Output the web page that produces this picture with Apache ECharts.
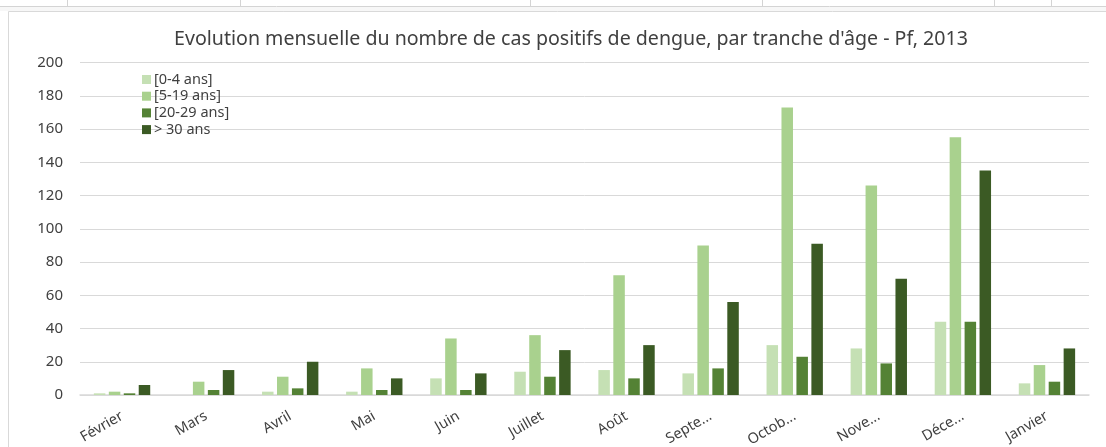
<!DOCTYPE html>
<html>
<head>
<meta charset="utf-8">
<script src="https://cdn.jsdelivr.net/npm/echarts@6/dist/echarts.min.js"></script>
<style>
  html, body { margin: 0; padding: 0; background: #fff; }
  #chart { width: 1106px; height: 447px; }
</style>
</head>
<body>
<div id="chart"></div>
<script>
// mois (catégories) et libellés tels qu'affichés sur l'axe
const months = ["Février", "Mars", "Avril", "Mai", "Juin", "Juillet", "Août", "Septembre", "Octobre", "Novembre", "Décembre", "Janvier"];
const monthLabels = ["Février", "Mars", "Avril", "Mai", "Juin", "Juillet", "Août", "Septe...", "Octob...", "Nove...", "Déce...", "Janvier"];

// cas par tranche d'âge
const age0_4 = [1, 0, 2, 2, 10, 14, 15, 13, 30, 28, 44, 7];
const age5_19 = [2, 8, 11, 16, 34, 36, 72, 90, 173, 126, 155, 18];
const age20_29 = [1, 3, 4, 3, 3, 11, 10, 16, 23, 19, 44, 8];
const age30plus = [6, 15, 20, 10, 13, 27, 30, 56, 91, 70, 135, 28];

const seriesNames = ["[0-4 ans]", "[5-19 ans]", "[20-29 ans]", "> 30 ans"];
const seriesColors = ["#c5e0b4", "#a9d18e", "#548235", "#3b5a24"];

const chart = echarts.init(document.getElementById("chart"));

const mkSeries = (name, data, color) => ({
  name: name,
  type: "bar",
  data: data,
  barWidth: 11.5,
  barGap: "30%",
  itemStyle: { color: color },
  emphasis: { disabled: true },
});

chart.setOption({
  animation: false,
  textStyle: { fontFamily: "Noto Sans" },
  title: {
    text: "Evolution mensuelle du nombre de cas positifs de dengue, par tranche d'âge - Pf, 2013",
    left: 566,
    top: 24,
    textAlign: "center",
    textStyle: { fontSize: 19.6, fontWeight: "normal", color: "#404040", fontFamily: "Noto Sans" },
  },
  legend: {
    orient: "vertical",
    left: 137,
    top: 67,
    itemWidth: 9,
    itemHeight: 9,
    itemGap: 1.7,
    icon: "rect",
    textStyle: { fontSize: 14.5, lineHeight: 15, color: "#404040", padding: [0, 0, 0, -2] },
    data: seriesNames,
  },
  grid: { left: 80, right: 17, top: 62.5, bottom: 52, outerBoundsMode: "none" },
  xAxis: {
    type: "category",
    data: months,
    axisLine: { lineStyle: { color: "#d9d9d9", width: 1.5 } },
    axisTick: { show: false },
    axisLabel: {
      rotate: 30,
      interval: 0,
      fontSize: 14.5,
      color: "#404040",
      margin: 20,
      formatter: (v, i) => monthLabels[i],
    },
  },
  yAxis: {
    type: "value",
    min: 0,
    max: 200,
    interval: 20,
    axisLine: { show: false },
    axisTick: { show: false },
    axisLabel: { fontSize: 15, color: "#404040", margin: 17 },
    splitLine: { lineStyle: { color: "#d9d9d9", width: 1 } },
  },
  graphic: [
    // bande de cellules du tableur au-dessus du graphique
    { type: "line", shape: { x1: 0, y1: 6.5, x2: 1106, y2: 6.5 }, style: { stroke: "#d4d4d4", lineWidth: 1 } },
    { type: "rect", shape: { x: 0, y: 7, width: 1106, height: 4 }, style: { fill: "#f7f7f7" } },
    { type: "line", shape: { x1: 67.5, y1: 0, x2: 67.5, y2: 6 }, style: { stroke: "#d4d4d4", lineWidth: 1 } },
    { type: "line", shape: { x1: 240.5, y1: 0, x2: 240.5, y2: 6 }, style: { stroke: "#d4d4d4", lineWidth: 1 } },
    { type: "line", shape: { x1: 530.5, y1: 0, x2: 530.5, y2: 6 }, style: { stroke: "#d4d4d4", lineWidth: 1 } },
    { type: "line", shape: { x1: 762.5, y1: 0, x2: 762.5, y2: 6 }, style: { stroke: "#d4d4d4", lineWidth: 1 } },
    { type: "line", shape: { x1: 994.5, y1: 0, x2: 994.5, y2: 6 }, style: { stroke: "#d4d4d4", lineWidth: 1 } },
    { type: "line", shape: { x1: 1051.5, y1: 0, x2: 1051.5, y2: 6 }, style: { stroke: "#d4d4d4", lineWidth: 1 } },
    // cadre du graphique
    { type: "rect", shape: { x: 8.5, y: 11.5, width: 1120, height: 460 }, style: { fill: "#fff", stroke: "#d9d9d9", lineWidth: 1 }, z: -10 },
  ],
  series: [
    mkSeries(seriesNames[0], age0_4, seriesColors[0]),
    mkSeries(seriesNames[1], age5_19, seriesColors[1]),
    mkSeries(seriesNames[2], age20_29, seriesColors[2]),
    mkSeries(seriesNames[3], age30plus, seriesColors[3]),
  ],
});
</script>
</body>
</html>
